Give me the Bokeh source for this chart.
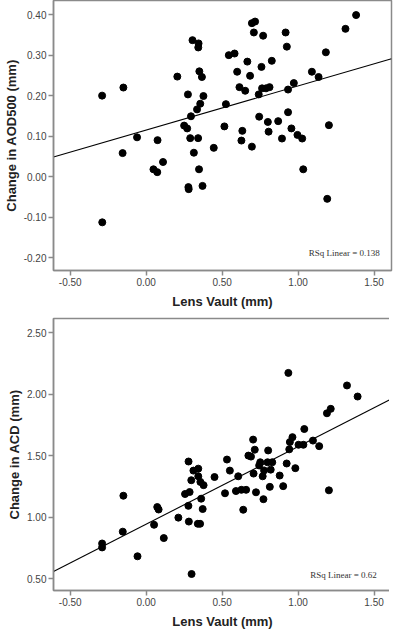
from bokeh.plotting import figure
from bokeh.layouts import column
from bokeh.models import Range1d, FixedTicker, NumeralTickFormatter, Label
from bokeh.embed import file_html
from bokeh.resources import INLINE
import numpy as np

# ---- data: top panel (Lens Vault vs Change in AOD500) ----
vault_top = [-0.29, -0.15, -0.155, -0.06, 0.075, 0.205, 0.305, 0.345, 0.343, 0.275,
             0.35, 0.367, 0.377, 0.356, 0.335, 0.295, 0.25, 0.27, 0.29, 0.342,
             0.314, 0.445, 0.515, 0.525, 0.544, 0.582, 0.599, 0.614, 0.652, 0.666,
             0.684, 0.627, 0.633, 0.696, 0.696, 0.717, 0.709, 0.77, 0.759, 0.741,
             0.827, 0.763, 0.789, 0.812, 0.744, 0.801, 0.806, 0.869, 0.894, 0.918,
             0.926, 0.934, 0.934, 0.956, 0.972, 0.996, 1.027, 1.091, 1.135, 1.183,
             1.203, 1.312, 1.382, 0.048, 0.073, 0.111, 0.348, 0.278, 0.280, 0.371,
             1.034, 1.192, -0.289]
aod_change = [0.20, 0.22, 0.058, 0.097, 0.09, 0.247, 0.337, 0.329, 0.319, 0.203,
              0.26, 0.246, 0.199, 0.18, 0.166, 0.149, 0.126, 0.119, 0.095, 0.095,
              0.059, 0.071, 0.124, 0.179, 0.30, 0.304, 0.259, 0.221, 0.212, 0.284,
              0.249, 0.089, 0.113, 0.074, 0.379, 0.383, 0.356, 0.348, 0.271, 0.203,
              0.286, 0.218, 0.218, 0.221, 0.148, 0.135, 0.111, 0.137, 0.094, 0.356,
              0.321, 0.215, 0.159, 0.119, 0.231, 0.103, 0.094, 0.259, 0.246, 0.307,
              0.127, 0.365, 0.399, 0.018, 0.011, 0.036, 0.018, -0.026, -0.031, -0.023,
              0.018, -0.055, -0.113]
fit_top_intercept = 0.115
fit_top_slope = 0.109
rsq_top = "0.138"

# ---- data: bottom panel (Lens Vault vs Change in ACD) ----
vault_bot = [0.936, 1.322, 1.392, 1.19, 1.215, 1.041, 0.963, 0.946, 0.942, 1.003,
             1.035, 1.098, 1.139, 0.925, 0.982, 0.704, 0.715, 0.673, 0.69, 0.803,
             0.751, 0.744, 0.799, 0.83, 0.776, 0.82, 0.532, 0.551, 0.279, 0.311,
             0.343, 0.343, 0.297, 0.357, 0.378, 0.45, 0.606, 0.707, 0.767, 0.879,
             0.256, 0.286, 0.362, 0.519, 0.591, 0.627, 0.658, 0.723, 0.814, 0.902,
             0.772, 1.203, 0.639, 0.372, 0.278, 0.281, 0.34, 0.355, 0.212, 0.073,
             0.082, 0.052, 0.116, -0.15, -0.154, -0.29, -0.29, -0.057, 0.299]
acd_change = [2.172, 2.07, 1.98, 1.844, 1.88, 1.716, 1.65, 1.61, 1.551, 1.588,
              1.588, 1.622, 1.577, 1.436, 1.398, 1.63, 1.548, 1.50, 1.492, 1.542,
              1.446, 1.42, 1.446, 1.446, 1.38, 1.386, 1.468, 1.378, 1.452, 1.378,
              1.394, 1.332, 1.30, 1.286, 1.26, 1.326, 1.332, 1.354, 1.332, 1.338,
              1.188, 1.204, 1.15, 1.194, 1.212, 1.222, 1.222, 1.202, 1.246, 1.252,
              1.146, 1.218, 1.06, 1.066, 1.092, 0.964, 0.946, 0.946, 0.996, 1.082,
              1.062, 0.938, 0.83, 1.174, 0.882, 0.786, 0.754, 0.682, 0.538]
fit_bot_intercept = 0.943
fit_bot_slope = 0.63
rsq_bot = "0.62"

x_ticks = [-0.5, 0.0, 0.5, 1.0, 1.5]
y_ticks_top = [-0.2, -0.1, 0.0, 0.1, 0.2, 0.3, 0.4]
y_ticks_bot = [0.5, 1.0, 1.5, 2.0, 2.5]

SANS = "Liberation Sans"
SERIF = "Liberation Serif"
GRAY = "#8a8a8a"


def make_panel(xs, ys, b0, b1, rsq, yrange, yticks, ylabel, frame_h, top_border, rsq_pos):
    p = figure(frame_width=338, frame_height=frame_h, output_backend="svg",
               toolbar_location=None,
               x_range=Range1d(-0.61, 1.615), y_range=Range1d(*yrange),
               min_border_left=0, min_border_right=2, min_border_top=top_border,
               min_border_bottom=0)
    p.grid.visible = False
    p.outline_line_color = GRAY
    p.outline_line_width = 1.5
    p.background_fill_color = "white"
    p.border_fill_color = "white"

    for ax, ticks in ((p.xaxis[0], x_ticks), (p.yaxis[0], yticks)):
        ax.ticker = FixedTicker(ticks=ticks)
        ax.formatter = NumeralTickFormatter(format="0.00")
        ax.axis_line_color = GRAY
        ax.axis_line_width = 1.5
        ax.major_tick_line_color = GRAY
        ax.major_tick_line_width = 1.5
        ax.major_tick_in = 0
        ax.major_tick_out = 5
        ax.minor_tick_line_color = None
        ax.major_label_text_font = SANS
        ax.major_label_text_font_size = "10px"
        ax.major_label_text_color = "#444444"
        ax.axis_label_text_font = SANS
        ax.axis_label_text_font_style = "bold"
        ax.axis_label_text_font_size = "13px"
        ax.axis_label_text_color = "#222222"
        ax.major_label_standoff = 2
    p.xaxis[0].axis_label_standoff = 5
    p.yaxis[0].axis_label_standoff = 2

    p.xaxis.axis_label = "Lens Vault (mm)"
    p.yaxis.axis_label = ylabel

    xl = np.array([-0.61, 1.615])
    p.line(xl, b0 + b1 * xl, line_color="black", line_width=1.1)
    p.scatter(xs, ys, size=7, fill_color="black", line_color="black")

    p.add_layout(Label(x=rsq_pos[0], y=rsq_pos[1], text="RSq Linear = " + rsq,
                       text_font=SERIF, text_font_size="9px", text_color="#333333",
                       text_baseline="middle", text_align="left"))
    return p


p1 = make_panel(vault_top, aod_change, fit_top_intercept, fit_top_slope, rsq_top,
                (-0.232, 0.435), y_ticks_top, "Change in AOD500 (mm)", 270, 0,
                (1.07, -0.189))
p2 = make_panel(vault_bot, acd_change, fit_bot_intercept, fit_bot_slope, rsq_bot,
                (0.404, 2.614), y_ticks_bot, "Change in ACD (mm)", 272, 7,
                (1.08, 0.532))

layout = column(p1, p2, spacing=0)
open("out.html", "w").write(file_html(layout, INLINE))
